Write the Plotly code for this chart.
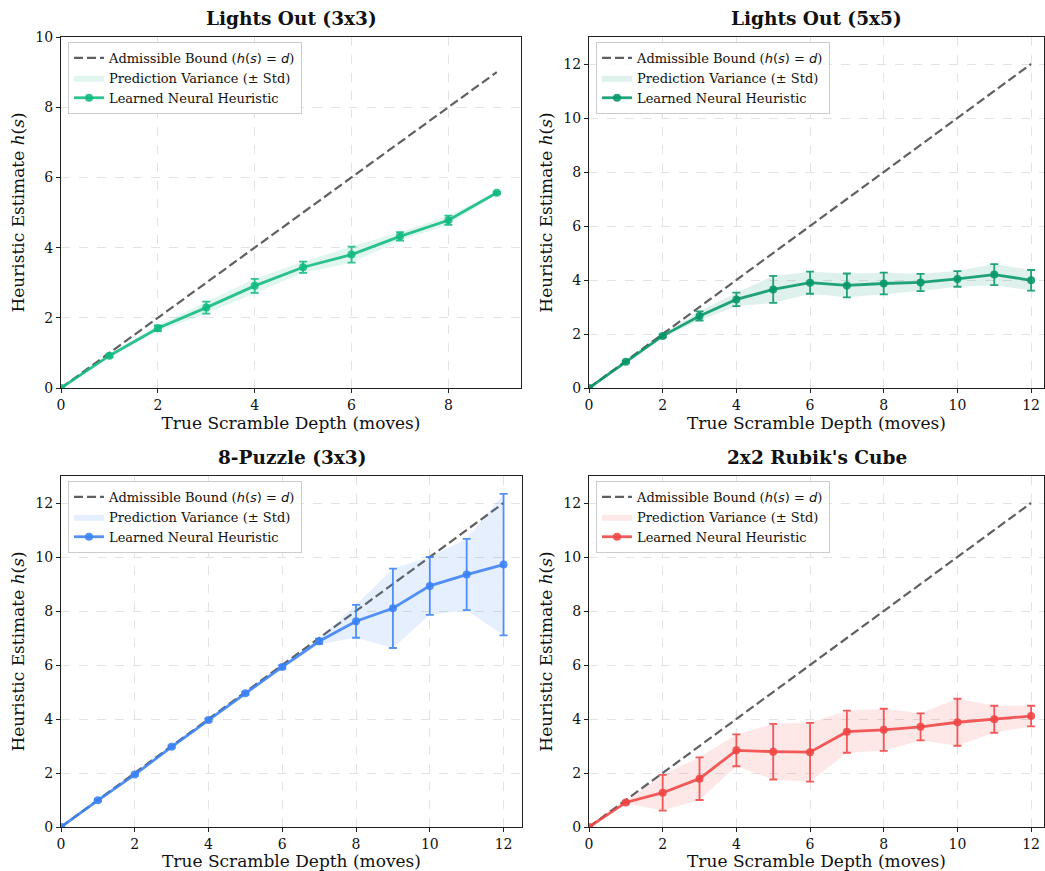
import plotly.graph_objects as go

# ---------------- data ----------------
titles = ["Lights Out (3x3)", "Lights Out (5x5)", "8-Puzzle (3x3)", "2x2 Rubik's Cube"]

depth_lo3 = [0, 1, 2, 3, 4, 5, 6, 7, 8, 9]
lo3_mean = [0, 0.92, 1.70, 2.29, 2.91, 3.44, 3.80, 4.32, 4.78, 5.56]
lo3_std = [0, 0.04, 0.08, 0.17, 0.20, 0.16, 0.23, 0.12, 0.13, 0.03]

depth12 = [0, 1, 2, 3, 4, 5, 6, 7, 8, 9, 10, 11, 12]
lo5_mean = [0, 0.97, 1.93, 2.67, 3.28, 3.65, 3.90, 3.80, 3.87, 3.91, 4.04, 4.20, 3.99]
lo5_std = [0, 0.03, 0.05, 0.17, 0.25, 0.50, 0.41, 0.44, 0.40, 0.32, 0.29, 0.39, 0.38]

p8_mean = [0, 0.99, 1.94, 2.97, 3.96, 4.95, 5.93, 6.88, 7.62, 8.10, 8.93, 9.35, 9.72]
p8_std = [0, 0.03, 0.04, 0.04, 0.05, 0.05, 0.06, 0.10, 0.61, 1.47, 1.07, 1.32, 2.62]

rc_mean = [0, 0.91, 1.27, 1.79, 2.84, 2.79, 2.77, 3.53, 3.60, 3.71, 3.88, 3.99, 4.11]
rc_std = [0, 0.03, 0.66, 0.79, 0.59, 1.03, 1.09, 0.78, 0.78, 0.50, 0.87, 0.50, 0.38]

panels = [
    dict(x=depth_lo3, m=lo3_mean, s=lo3_std, rgb=(16, 185, 129), xr=[0, 9.5], yr=[0, 10], dt=2, ydt=2),
    dict(x=depth12, m=lo5_mean, s=lo5_std, rgb=(5, 150, 105), xr=[0, 12.35], yr=[0, 13], dt=2, ydt=2),
    dict(x=depth12, m=p8_mean, s=p8_std, rgb=(59, 130, 246), xr=[0, 12.5], yr=[0, 13], dt=2, ydt=2),
    dict(x=depth12, m=rc_mean, s=rc_std, rgb=(239, 68, 68), xr=[0, 12.35], yr=[0, 13], dt=2, ydt=2),
]

W, H = 1045, 871
px_domains = [
    ((61, 521), (37, 388)),
    ((589, 1044), (37, 388)),
    ((61, 522), (476, 827)),
    ((589, 1044), (476, 827)),
]

FONT = "DejaVu Serif"
fig = go.Figure()
layout = dict(
    width=W, height=H, margin=dict(l=0, r=0, t=0, b=0),
    paper_bgcolor="white", plot_bgcolor="white",
    font=dict(family=FONT, color="#111"), showlegend=True,
    template="none",
)
annotations = []

for i, p in enumerate(panels):
    k = "" if i == 0 else str(i + 1)
    xa, ya = "x" + k, "y" + k
    leg = "legend" + k
    r, g, b = p["rgb"]
    col = f"rgba({r},{g},{b},0.88)"
    fillc = f"rgba({r},{g},{b},0.13)"
    xs, ms, ss = p["x"], p["m"], p["s"]
    upper = [m + s for m, s in zip(ms, ss)]
    lower = [m - s for m, s in zip(ms, ss)]

    fig.add_trace(go.Scatter(
        x=[xs[0], xs[-1]], y=[xs[0], xs[-1]], mode="lines",
        line=dict(color="#606060", width=2.2, dash="9px,4px"),
        name='Admissible Bound (<span style="font-family:DejaVu Sans"><i>h</i>(<i>s</i>) = <i>d</i></span>)',
        xaxis=xa, yaxis=ya, legend=leg, hoverinfo="skip"))
    fig.add_trace(go.Scatter(
        x=list(xs) + list(xs[::-1]), y=upper + lower[::-1], mode="lines",
        fill="toself", fillcolor=fillc, line=dict(width=0, color=fillc),
        name="Prediction Variance (± Std)", xaxis=xa, yaxis=ya, legend=leg, hoverinfo="skip"))
    fig.add_trace(go.Scatter(
        x=xs, y=ms, mode="lines+markers",
        line=dict(color=col, width=2.8), marker=dict(color=col, size=8),
        error_y=dict(type="data", array=ss, visible=True, color=col, thickness=1.8, width=4),
        name="Learned Neural Heuristic", xaxis=xa, yaxis=ya, legend=leg))

    (x0, x1), (y0, y1) = px_domains[i]
    dx = [x0 / W, x1 / W]
    dy = [1 - y1 / H, 1 - y0 / H]
    axcommon = dict(
        showline=True, linecolor="#222", linewidth=1.1, mirror=True,
        ticks="outside", ticklen=4, tickwidth=1, tickcolor="#222",
        showgrid=True, gridcolor="rgba(0,0,0,0.11)", griddash="dash", gridwidth=0.8,
        zeroline=False, tickfont=dict(family=FONT, size=14, color="#111"),
        automargin=False,
    )
    layout["xaxis" + k] = dict(
        axcommon, domain=dx, range=p["xr"], dtick=p["dt"], tick0=0, anchor=ya,
        title=dict(text="True Scramble Depth (moves)", font=dict(family=FONT, size=17, color="#111"), standoff=4))
    layout["yaxis" + k] = dict(
        axcommon, domain=dy, range=p["yr"], dtick=p["ydt"], tick0=0, anchor=xa,
        title=dict(text="Heuristic Estimate <i>h</i>(<i>s</i>)", font=dict(family=FONT, size=17, color="#111"), standoff=6))
    layout[leg] = dict(
        x=(x0 + 7) / W, y=1 - (y0 + 5) / H, xanchor="left", yanchor="top",
        bgcolor="rgba(255,255,255,0.85)", bordercolor="#cccccc", borderwidth=1,
        font=dict(family=FONT, size=13, color="#111"), tracegroupgap=0,
        itemwidth=30,
    )
    annotations.append(dict(
        text=f"<b>{titles[i]}</b>", x=(x0 + x1) / 2 / W, y=1 - (y0 - 19) / H,
        xref="paper", yref="paper", showarrow=False, xanchor="center", yanchor="middle",
        font=dict(family=FONT, size=18.5, color="#111")))

layout["annotations"] = annotations
fig.update_layout(**layout)
fig.write_html("out.html", config={"displayModeBar": False},
               post_script="document.body.style.margin='0';document.body.style.overflow='hidden';")
